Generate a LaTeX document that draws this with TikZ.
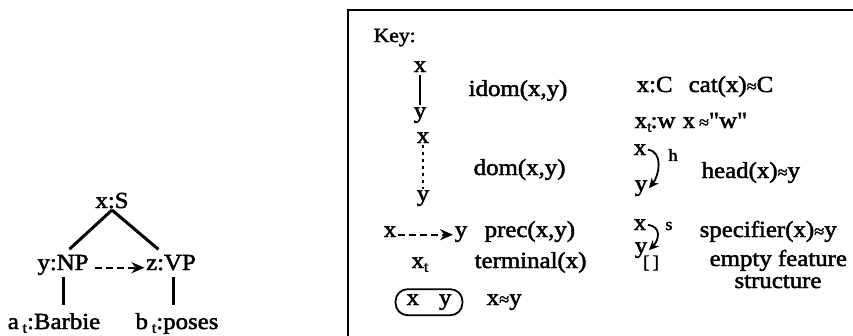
\documentclass[tikz,border=0pt]{standalone}
\usepackage{fontspec}
\setmainfont[FakeStretch=1.08, FakeBold=2, Ligatures=TeXOff]{Liberation Serif}
\usetikzlibrary{arrows.meta}
\newcommand\tsub{\raisebox{-0.35ex}{\fontsize{15}{15}\selectfont t}}
\newcommand\apx{{\fontsize{17}{17}\selectfont ≈}}
\begin{document}
\begin{tikzpicture}[x=1pt,y=-1pt,
  every node/.style={inner sep=1.5pt, font=\fontsize{23}{25}\selectfont},
  lbl/.style={anchor=base west},
  ctr/.style={anchor=base},
  keyfont/.style={font=\fontsize{20}{20}\selectfont},
  edge/.style={line width=3pt},
  kline/.style={line width=2pt},
  prc/.style={line width=2.4pt, dash pattern=on 7pt off 4pt, -{Stealth[length=13pt,width=11pt]}},
  dotln/.style={line width=2.4pt, dash pattern=on 3.5pt off 3.5pt},
  rel/.style={line width=1.8pt, -{Stealth[length=10pt,width=9pt]}},
  lab/.style={font=\fontsize{17}{17}\selectfont, inner sep=0pt}]
\useasboundingbox (0,0) rectangle (853,335);

% tree
\node[ctr] (S) at (112,208) {x:S};
\node[ctr] (NP) at (63,270) {y:NP};
\node[ctr] (VP) at (171,270) {z:VP};
\node[ctr] (a) at (54,329) {a\,\tsub:Barbie};
\node[ctr] (b) at (177,329) {b\,\tsub:poses};
\draw[edge, shorten >=6pt] (S.south) -- ([xshift=2pt]NP.north);
\draw[edge, shorten >=6pt] (S.south) -- ([xshift=-8pt]VP.north);
\draw[edge, shorten >=6pt] (NP.south) -- (NP.south |- a.north);
\draw[edge, shorten <=5pt, shorten >=6pt] ([xshift=2pt]VP.south) -- ([xshift=2pt]VP.south |- b.north);
\draw[prc, shorten <=5pt] (NP.mid east) -- (VP.mid west);

% key box
\draw[line width=2.2pt] (348,336) -- (348,10) -- (854,10);
\node[lbl, keyfont] (key) at (372,42) {Key:};

\node[ctr] (ix) at (420,72) {x};
\node[ctr] (iy) at (420,118) {y};
\draw[kline, shorten <=1pt, shorten >=1pt] (ix) -- (iy);
\node[lbl] (idom) at (467,96) {idom(x,y)};

\node[ctr] (dx) at (423,143) {x};
\node[ctr] (dy) at (423,201) {y};
\draw[dotln] (dx) -- (dy);
\node[lbl] (dom) at (472,175) {dom(x,y)};

\node[ctr] (px) at (390,237) {x};
\node[ctr] (py) at (461,237) {y};
\draw[prc] (px.mid east) -- (py.mid west);
\node[lbl] (prec) at (483,237) {prec(x,y)};

\node[ctr] (tx) at (420,268) {x\tsub};
\node[lbl] (term) at (473,268) {terminal(x)};

\node[draw, line width=1.8pt, rounded corners=12pt, minimum height=26pt, inner xsep=11pt, anchor=base] (eq) at (429,305) {x\hspace{20pt}y};
\node[lbl] (eqt) at (485,305) {x\apx y};

\node[lbl] (xc) at (635,92) {x:C};
\node[lbl] (cat) at (687,92) {cat(x)\apx C};

\node[lbl] (xw) at (633,128) {x\tsub\kern-1pt:w};
\node[lbl] (wq) at (681,128) {x\,\apx"w"};

\node[ctr] (hx) at (640,155) {x};
\node[ctr] (hy) at (641,191) {y};
\draw[rel] (hx.east) .. controls +(16,2) and +(10,-12) .. (hy.east);
\node[lab] (hl) at (673,155) {h};
\node[lbl] (head) at (700,178) {head(x)\apx y};

\node[ctr] (sx) at (640,230) {x};
\node[ctr] (sy) at (641,253) {y};
\draw[rel] (sx.east) .. controls +(14,2) and +(10,-10) .. (sy.east);
\node[lab] (sl) at (669,226) {s};
\node[lbl] (spec) at (698,237) {specifier(x)\apx y};

\node[ctr, font=\fontsize{18}{18}\selectfont] (fs) at (651,268) {[\,]};
\node[lbl] (ef) at (708,266) {empty feature};
\node[ctr] (st) at (778,288) {structure};
\end{tikzpicture}
\end{document}
